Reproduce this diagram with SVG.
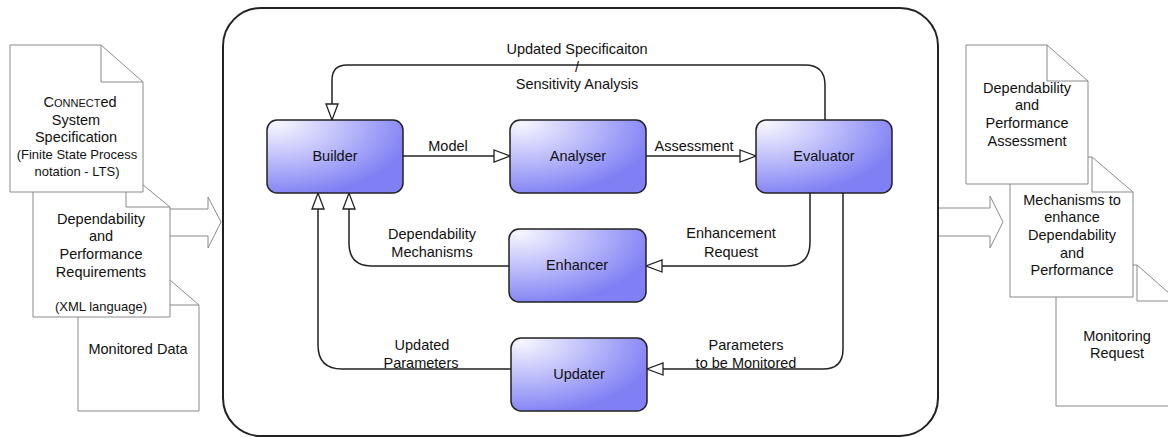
<svg xmlns="http://www.w3.org/2000/svg" width="1168" height="437" viewBox="0 0 1168 437">
<defs>
<radialGradient id="ng" cx="0.08" cy="0.05" r="1" fx="0.08" fy="0.05">
<stop offset="0" stop-color="#f6f6ff"/>
<stop offset="0.45" stop-color="#c2c2fb"/>
<stop offset="1" stop-color="#8080f4"/>
</radialGradient>
<marker id="tri" markerWidth="19" markerHeight="14" refX="17" refY="7" orient="auto" markerUnits="userSpaceOnUse">
<path d="M1,1 L17,7 L1,13 Z" fill="#fff" stroke="#222" stroke-width="1.3"/>
</marker>
</defs>
<style>
text{font-family:"Liberation Sans",Arial,sans-serif;fill:#111;text-anchor:middle}
.t{font-size:14.5px}
.s{font-size:13px}
.n{font-size:14.5px}
.doc{fill:#fff;stroke:#8a8a8a;stroke-width:1}
.fold{fill:none;stroke:#8a8a8a;stroke-width:1}
.blk{fill:#fff;stroke:#8a8a8a;stroke-width:1}
.node{fill:url(#ng);stroke:#222;stroke-width:1.5}
.c{fill:none;stroke:#222;stroke-width:1.5}
</style>
<rect width="1168" height="437" fill="#fff"/>

<!-- block arrows -->
<path class="blk" d="M140,209 H208 V197 L221,222 L208,248 V236 H140 Z"/>
<path class="blk" d="M930,208 H990 V196 L1003,222 L990,248 V236 H930 Z"/>

<!-- container -->
<rect id="system" x="223" y="8" width="715" height="428" rx="38" ry="38" fill="#fff" stroke="#222" stroke-width="2"/>

<!-- left documents -->
<g id="doc-monitored">
<path class="doc" d="M78,268 H156 L199,305 V411 H78 Z"/>
<path class="fold" d="M156,268 V305 H199"/>
<text class="t" x="138" y="354">Monitored Data</text>
</g>
<g id="doc-requirements">
<path class="doc" d="M33,171 H126 L170,207 V317 H33 Z"/>
<path class="fold" d="M126,171 V207 H170"/>
<text class="t" x="101" y="224">Dependability</text>
<text class="t" x="101" y="241">and</text>
<text class="t" x="101" y="259">Performance</text>
<text class="t" x="101" y="277">Requirements</text>
<text class="s" x="101" y="311">(XML language)</text>
</g>
<g id="doc-spec">
<path class="doc" d="M10,45 H101 L143,82 V192 H10 Z"/>
<path class="fold" d="M101,45 V82 H143"/>
<text class="t" x="80" y="107">C<tspan font-size="11px">ONNECT</tspan>ed</text>
<text class="t" x="76" y="125">System</text>
<text class="t" x="76" y="142">Specification</text>
<text class="s" x="77" y="159">(Finite State Process</text>
<text class="s" x="77" y="176">notation - LTS)</text>
</g>

<!-- right documents -->
<g id="doc-monitoring-request">
<path class="doc" d="M1056,265 H1137 L1178,301 V406 H1056 Z"/>
<path class="fold" d="M1137,265 V301 H1178"/>
<text class="t" x="1117" y="341">Monitoring</text>
<text class="t" x="1117" y="358">Request</text>
</g>
<g id="doc-mechanisms">
<path class="doc" d="M1010,157 H1092 L1133,192 V297 H1010 Z"/>
<path class="fold" d="M1092,157 V192 H1133"/>
<text class="t" x="1072" y="205">Mechanisms to</text>
<text class="t" x="1072" y="222">enhance</text>
<text class="t" x="1072" y="240">Dependability</text>
<text class="t" x="1072" y="258">and</text>
<text class="t" x="1072" y="275">Performance</text>
</g>
<g id="doc-assessment">
<path class="doc" d="M966,45 H1047 L1088,81 V184 H966 Z"/>
<path class="fold" d="M1047,45 V81 H1088"/>
<text class="t" x="1027" y="93">Dependability</text>
<text class="t" x="1027" y="110">and</text>
<text class="t" x="1027" y="128">Performance</text>
<text class="t" x="1027" y="146">Assessment</text>
</g>

<!-- connectors -->
<g id="connectors">
<path class="c" d="M403,156 H510" marker-end="url(#tri)"/>
<path class="c" d="M646,156 H756" marker-end="url(#tri)"/>
<path class="c" d="M825,120 V85 Q825,65 805,65 H347 Q332,65 332,80 V120" marker-end="url(#tri)"/>
<path class="c" d="M509,266 H372 Q349,266 349,243 V193" marker-end="url(#tri)"/>
<path class="c" d="M511,369 H342 Q318,369 318,345 V193" marker-end="url(#tri)"/>
<path class="c" d="M810,193 V242 Q810,266 786,266 H646" marker-end="url(#tri)"/>
<path class="c" d="M843,193 V349 Q843,369 823,369 H647" marker-end="url(#tri)"/>
<text class="t" x="448" y="151">Model</text>
<text class="t" x="694" y="151">Assessment</text>
<text class="t" x="577" y="54">Updated Specificaiton</text>
<text class="t" x="577" y="72" font-size="10px">/</text>
<text class="t" x="577" y="89">Sensitivity Analysis</text>
<text class="t" x="432" y="239">Dependability</text>
<text class="t" x="432" y="257">Mechanisms</text>
<text class="t" x="422" y="350">Updated</text>
<text class="t" x="421" y="368">Parameters</text>
<text class="t" x="731" y="238">Enhancement</text>
<text class="t" x="731" y="257">Request</text>
<text class="t" x="746" y="350">Parameters</text>
<text class="t" x="746" y="368">to be Monitored</text>
</g>

<!-- nodes -->
<g id="builder">
<rect class="node" x="267" y="120" width="136" height="73" rx="10"/>
<text class="n" x="335" y="161">Builder</text>
</g>
<g id="analyser">
<rect class="node" x="510" y="120" width="136" height="73" rx="10"/>
<text class="n" x="578" y="161">Analyser</text>
</g>
<g id="evaluator">
<rect class="node" x="756" y="120" width="136" height="73" rx="10"/>
<text class="n" x="824" y="161">Evaluator</text>
</g>
<g id="enhancer">
<rect class="node" x="509" y="229" width="137" height="73" rx="10"/>
<text class="n" x="577" y="270">Enhancer</text>
</g>
<g id="updater">
<rect class="node" x="511" y="338" width="136" height="73" rx="10"/>
<text class="n" x="579" y="379">Updater</text>
</g>
</svg>
